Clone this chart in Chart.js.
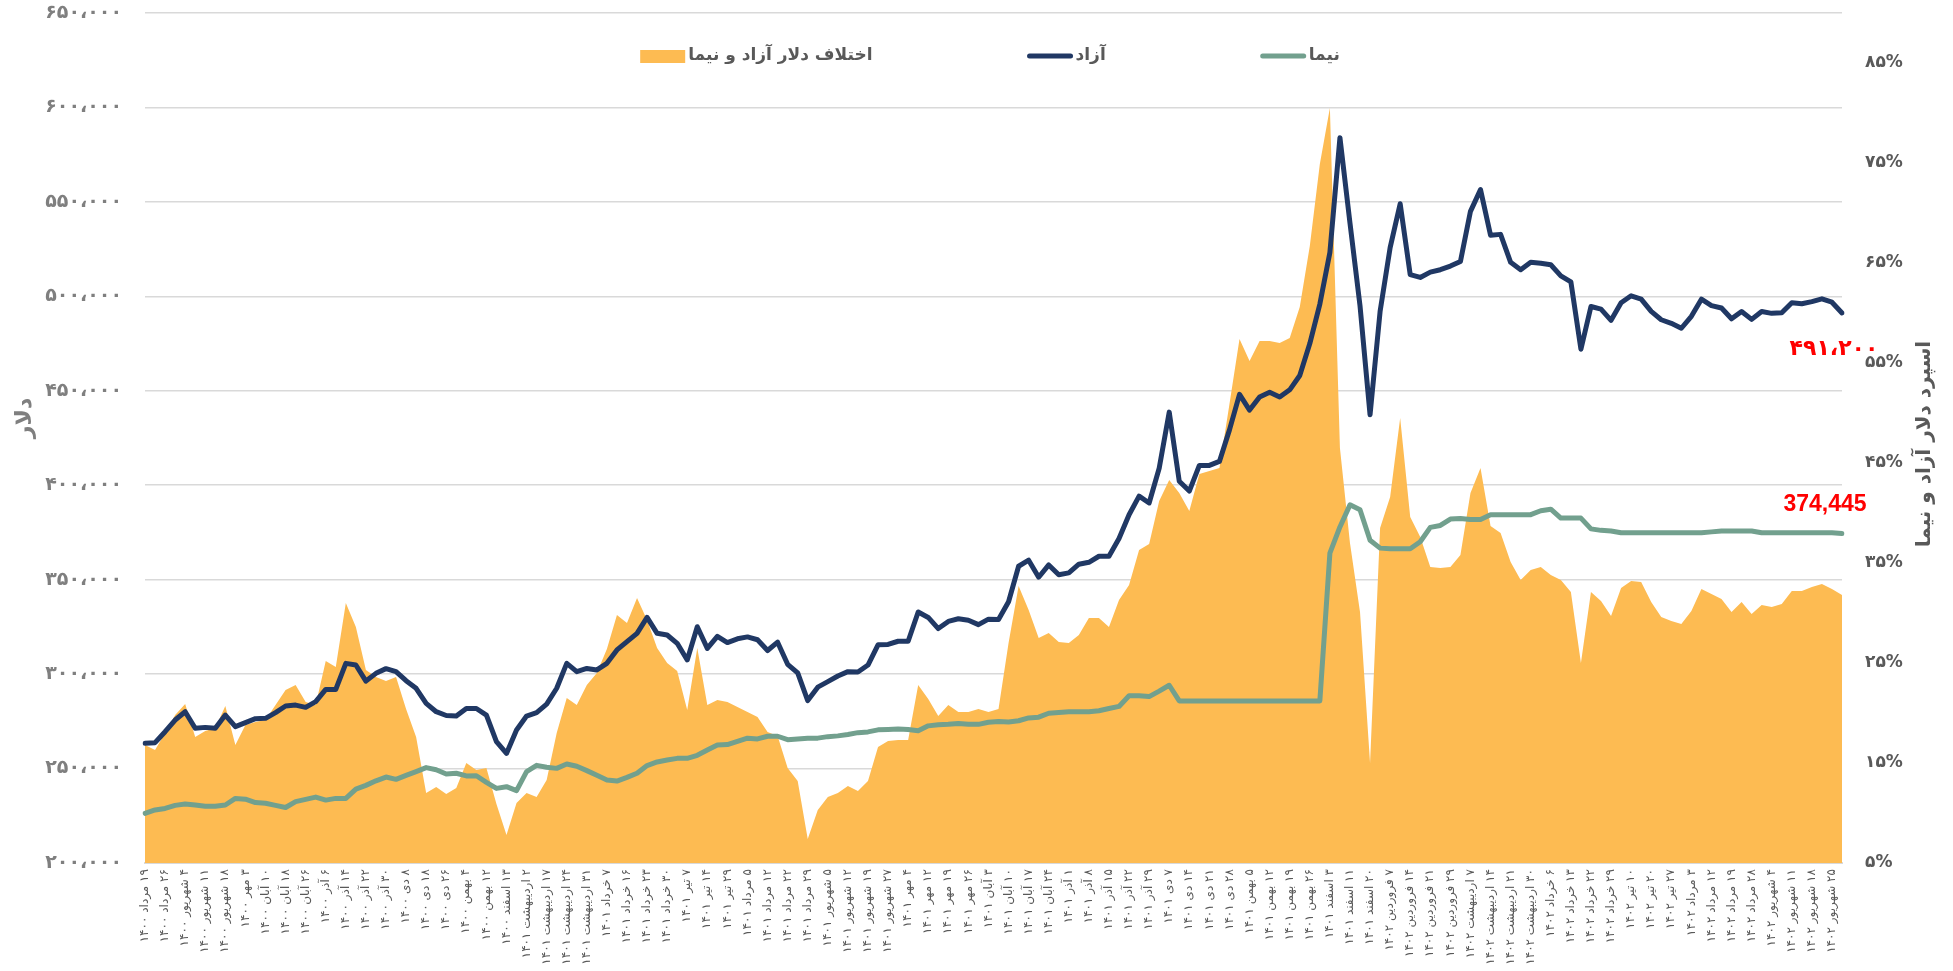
<!DOCTYPE html>
<html lang="fa">
<head>
<meta charset="utf-8">
<script src="https://cdn.jsdelivr.net/npm/chart.js@4.4.1/dist/chart.umd.min.js"></script>
<style>
    html, body { margin: 0; padding: 0; background: #fff; }
    canvas { direction: rtl; display: block; }
</style>
</head>
<body>
<canvas id="myChart" width="1953" height="971" dir="rtl"></canvas>
<script>
// تاریخ‌ها (هر برچسب = دو نقطه داده)
const dateLabels = [
    '۱۹ مرداد ۱۴۰۰','۲۶ مرداد ۱۴۰۰','۴ شهریور ۱۴۰۰','۱۱ شهریور ۱۴۰۰','۱۸ شهریور ۱۴۰۰','۳ مهر ۱۴۰۰','۱۰ آبان ۱۴۰۰','۱۸ آبان ۱۴۰۰','۲۶ آبان ۱۴۰۰','۶ آذر ۱۴۰۰',
    '۱۴ آذر ۱۴۰۰','۲۲ آذر ۱۴۰۰','۳۰ آذر ۱۴۰۰','۸ دی ۱۴۰۰','۱۸ دی ۱۴۰۰','۲۶ دی ۱۴۰۰','۴ بهمن ۱۴۰۰','۱۲ بهمن ۱۴۰۰','۱۳ اسفند ۱۴۰۰','۲ اردیبهشت ۱۴۰۱',
    '۱۷ اردیبهشت ۱۴۰۱','۲۴ اردیبهشت ۱۴۰۱','۳۱ اردیبهشت ۱۴۰۱','۷ خرداد ۱۴۰۱','۱۶ خرداد ۱۴۰۱','۲۳ خرداد ۱۴۰۱','۳۰ خرداد ۱۴۰۱','۷ تیر ۱۴۰۱','۱۴ تیر ۱۴۰۱','۲۹ تیر ۱۴۰۱',
    '۵ مرداد ۱۴۰۱','۱۲ مرداد ۱۴۰۱','۲۲ مرداد ۱۴۰۱','۲۹ مرداد ۱۴۰۱','۵ شهریور ۱۴۰۱','۱۲ شهریور ۱۴۰۱','۱۹ شهریور ۱۴۰۱','۲۷ شهریور ۱۴۰۱','۴ مهر ۱۴۰۱','۱۲ مهر ۱۴۰۱',
    '۱۹ مهر ۱۴۰۱','۲۶ مهر ۱۴۰۱','۳ آبان ۱۴۰۱','۱۰ آبان ۱۴۰۱','۱۷ آبان ۱۴۰۱','۲۴ آبان ۱۴۰۱','۱ آذر ۱۴۰۱','۸ آذر ۱۴۰۱','۱۵ آذر ۱۴۰۱','۲۲ آذر ۱۴۰۱',
    '۲۹ آذر ۱۴۰۱','۷ دی ۱۴۰۱','۱۴ دی ۱۴۰۱','۲۱ دی ۱۴۰۱','۲۸ دی ۱۴۰۱','۵ بهمن ۱۴۰۱','۱۲ بهمن ۱۴۰۱','۱۹ بهمن ۱۴۰۱','۲۶ بهمن ۱۴۰۱','۳ اسفند ۱۴۰۱',
    '۱۱ اسفند ۱۴۰۱','۲۰ اسفند ۱۴۰۱','۷ فروردین ۱۴۰۲','۱۴ فروردین ۱۴۰۲','۲۱ فروردین ۱۴۰۲','۲۹ فروردین ۱۴۰۲','۷ اردیبهشت ۱۴۰۲','۱۴ اردیبهشت ۱۴۰۲','۲۱ اردیبهشت ۱۴۰۲','۳۰ اردیبهشت ۱۴۰۲',
    '۶ خرداد ۱۴۰۲','۱۳ خرداد ۱۴۰۲','۲۲ خرداد ۱۴۰۲','۲۹ خرداد ۱۴۰۲','۱۰ تیر ۱۴۰۲','۲۰ تیر ۱۴۰۲','۲۷ تیر ۱۴۰۲','۳ مرداد ۱۴۰۲','۱۲ مرداد ۱۴۰۲','۱۹ مرداد ۱۴۰۲',
    '۲۸ مرداد ۱۴۰۲','۴ شهریور ۱۴۰۲','۱۱ شهریور ۱۴۰۲','۱۸ شهریور ۱۴۰۲','۲۵ شهریور ۱۴۰۲'
];

// دلار آزاد (ریال)
const freeRate = [
    263400,263700,269500,275700,280100,271300,271800,271300,278300,272200,
    274300,276400,276600,279600,283100,283600,282400,285400,291900,291900,
    305700,304800,296300,300400,302900,301300,296500,292500,284500,280100,
    278100,277800,281800,281800,278300,264200,258000,270400,277800,279600,
    284100,292500,305700,301300,303000,302200,305700,312800,317200,321600,
    330000,321600,320700,316300,307500,325100,313600,320000,316700,318700,
    319700,318200,312500,316900,305200,300600,286000,293100,296000,299000,
    301300,301100,304800,315500,315700,317400,317400,332900,330000,324100,
    327900,329300,328500,326200,329100,328900,338300,357100,360300,351300,
    357800,352600,353600,358200,359200,362400,362400,371800,384400,394200,
    390600,409000,438700,402100,396900,410500,410500,412600,429300,448100,
    439800,446700,449200,446700,450500,458100,475000,495900,523200,584000,
    538800,495000,437300,492000,525800,549000,511500,510000,512800,514100,
    516000,518500,545000,556500,532300,532800,518000,514100,518000,517500,
    516700,510800,507600,472000,494600,493200,487300,496600,500300,498500,
    492000,487600,485700,483100,489400,498500,495100,493800,488100,492000,
    487800,492000,491000,491300,496600,496100,497200,498700,496900,491200
];

// دلار نیما (ریال)
const nimaRate = [
    226300,228100,228900,230500,231200,230700,230000,230000,230700,234200,
    233800,232000,231600,230500,229400,232500,233700,234900,233300,234200,
    234200,239100,241100,243500,245500,244300,246400,248400,250500,249400,
    247100,247500,246100,246200,242700,239500,240400,238300,248400,251700,
    250700,250100,252400,251200,248900,246400,243900,243400,245300,247500,
    251600,253500,254500,255400,255400,257000,259800,262500,262700,264400,
    266100,265700,267100,267100,265300,265700,266100,266100,266900,267300,
    268000,269000,269400,270500,270700,270900,270700,270000,272600,273200,
    273400,273900,273400,273400,274500,274900,274700,275300,276800,277200,
    279300,279700,280100,280100,280100,280600,281800,282900,288500,288500,
    288100,291000,294100,285800,285800,285800,285800,285800,285800,285800,
    285800,285800,285800,285800,285800,285800,285800,285800,364000,377900,
    389600,387000,370900,366700,366400,366400,366400,370100,377700,378700,
    382100,382400,381900,381900,384400,384400,384400,384400,384400,386500,
    387300,382600,382600,382600,376900,376100,375800,374800,374800,374800,
    374800,374800,374800,374800,374800,374800,375300,375800,375800,375800,
    375800,374800,374800,374800,374800,374800,374800,374800,374800,374445
];

// اسپرد (درصد)
const spreadPct = [
    16.8,16.3,18.0,19.8,20.9,17.6,18.2,18.5,20.7,16.8,
    18.8,19.1,19.3,20.8,22.3,22.8,21.1,20.8,25.2,24.6,
    31.0,28.6,24.3,23.6,23.2,23.6,20.4,17.6,12.0,12.6,
    11.9,12.5,15.0,14.3,14.5,10.9,7.8,11.0,12.0,11.6,
    13.3,18.0,21.5,20.8,22.8,24.0,26.4,29.8,29.0,31.5,
    29.3,26.5,25.0,24.2,20.3,26.5,20.8,21.3,21.1,20.6,
    20.1,19.6,18.1,17.7,14.5,13.2,7.4,10.3,11.6,12.0,
    12.7,12.2,13.2,16.6,17.2,17.3,17.3,22.8,21.4,19.7,
    20.8,20.1,20.1,20.4,20.1,20.4,27.0,32.7,30.3,27.5,
    28.0,27.1,27.0,27.8,29.5,29.5,28.6,31.3,32.8,36.3,
    36.9,41.2,43.3,42.0,40.2,43.9,44.2,44.5,50.9,57.4,
    55.2,57.2,57.2,57.0,57.5,60.6,66.7,74.9,80.5,46.5,
    37.0,30.1,15.0,38.5,41.6,49.5,39.6,37.6,34.6,34.5,
    34.6,35.8,42.0,44.5,38.7,38.0,35.1,33.3,34.3,34.6,
    33.8,33.3,32.1,25.0,32.1,31.2,29.7,32.5,33.2,33.1,
    31.1,29.6,29.2,28.9,30.2,32.4,31.9,31.4,30.1,31.1,
    29.9,30.8,30.6,30.9,32.2,32.2,32.6,32.9,32.4,31.8
];

const dollarTicks = [200000, 250000, 300000, 350000, 400000, 450000, 500000, 550000, 600000, 650000];
const spreadTicks = [5, 15, 25, 35, 45, 55, 65, 75, 85];

let myChart = null;

function faDigits(v) {
    return String(v).replace(/\d/g, d => '۰۱۲۳۴۵۶۷۸۹'[d]);
}
function withSep(v, sep) {
    return String(v).replace(/\B(?=(\d{3})+(?!\d))/g, sep);
}

function drawUp(ctx, text, x, y) {
    ctx.save();
    ctx.translate(x, y);
    ctx.rotate(-Math.PI / 2);
    ctx.fillText(text, 0, 0);
    ctx.restore();
}

// y axes: fixed width, no extra top/bottom padding
function fixAxis(width) {
    return s => {
        s.width = width;
        s.paddingTop = 0;
        s.paddingBottom = 0;
    };
}

// عنوان محورها، راهنما و برچسب آخرین مقدار
const overlayPlugin = {
    id: 'overlay',
    afterDraw(chart) {
        const ctx = chart.ctx;
        ctx.save();
        ctx.direction = 'rtl';
        ctx.textBaseline = 'middle';

        ctx.fillStyle = '#595959';
        ctx.textAlign = 'center';
        ctx.font = 'bold 20px "DejaVu Sans"';
        drawUp(ctx, 'اسپرد دلار آزاد و نیما', 1925, 444);
        ctx.fillStyle = '#7F7F7F';
        ctx.font = 'bold 22px "DejaVu Sans"';
        ctx.letterSpacing = '4px';
        drawUp(ctx, 'دلار', 25, 418);
        ctx.letterSpacing = '0px';

        // legend
        const sets = chart.data.datasets;
        ctx.font = 'bold 17px "DejaVu Sans"';
        ctx.textAlign = 'left';
        const markerW = 45, gapText = 3, gapItem = 155;
        const widths = sets.map(ds => markerW + gapText + ctx.measureText(ds.label).width);
        const total = widths.reduce((a, b) => a + b, 0) + gapItem * (sets.length - 1);
        let x = 990 - total / 2;
        const y = 56;
        sets.forEach((ds, k) => {
            if (ds.fill) {
                ctx.fillStyle = ds.backgroundColor;
                ctx.fillRect(x, y - 6, markerW, 13);
            } else {
                ctx.strokeStyle = ds.borderColor;
                ctx.lineWidth = 5;
                ctx.lineCap = 'round';
                ctx.beginPath();
                ctx.moveTo(x + 2, y);
                ctx.lineTo(x + markerW - 2, y);
                ctx.stroke();
            }
            ctx.fillStyle = '#595959';
            ctx.fillText(ds.label, x + markerW + gapText, y);
            x += widths[k] + gapItem;
        });

        // last values
        const last = freeRate.length - 1;
        const fp = chart.getDatasetMeta(1).data[last];
        const np = chart.getDatasetMeta(2).data[last];
        ctx.fillStyle = '#FF0000';
        ctx.textAlign = 'center';
        ctx.font = 'bold 22px "DejaVu Sans"';
        ctx.fillText(faDigits(withSep(freeRate[last], '،')), fp.x - 8, fp.y + 36);
        ctx.font = 'bold 23px "Liberation Sans"';
        ctx.fillText(withSep(nimaRate[last], ','), np.x - 17, np.y - 29);
        ctx.restore();
    }
};

function initializeChart(ctx) {
    if (myChart) {
        myChart.destroy();
    }
    const labels = freeRate.map((v, i) => (i % 2 === 0 && dateLabels[i / 2]) ? dateLabels[i / 2] : '');

    myChart = new Chart(ctx, {
        type: 'line',
        data: {
            labels: labels,
            datasets: [
                {
                    label: 'اختلاف دلار آزاد و نیما',
                    data: spreadPct,
                    yAxisID: 'y1',
                    fill: 'start',
                    backgroundColor: '#FDBB52',
                    borderColor: '#FDBB52',
                    borderWidth: 0,
                    pointRadius: 0,
                    order: 3
                },
                {
                    label: 'آزاد',
                    data: freeRate,
                    yAxisID: 'y',
                    fill: false,
                    borderColor: '#203864',
                    borderWidth: 5,
                    pointRadius: 0,
                    order: 1
                },
                {
                    label: 'نیما',
                    data: nimaRate,
                    yAxisID: 'y',
                    fill: false,
                    borderColor: '#72A08E',
                    borderWidth: 5,
                    pointRadius: 0,
                    order: 2
                }
            ]
        },
        options: {
            responsive: false,
            animation: false,
            layout: { padding: { top: 13, left: 0, right: 0, bottom: 0 } },
            elements: { line: { tension: 0, borderJoinStyle: 'round', borderCapStyle: 'round' } },
            plugins: {
                legend: { display: false },
                tooltip: { enabled: false }
            },
            scales: {
                x: {
                    offset: false,
                    grid: { display: false, drawTicks: false },
                    border: { display: true, color: '#D9D9D9', width: 2 },
                    ticks: {
                        autoSkip: false,
                        minRotation: 90,
                        maxRotation: 90,
                        padding: 6,
                        color: '#595959',
                        font: { family: 'DejaVu Sans', size: 12 }
                    },
                    afterFit: s => { s.height = 108; s.paddingLeft = 0; s.paddingRight = 0; }
                },
                y: {
                    position: 'left',
                    min: 200000,
                    max: 650000,
                    afterBuildTicks: s => { s.ticks = dollarTicks.map(v => ({ value: v })); },
                    grid: { color: '#D9D9D9', lineWidth: 1.5, drawTicks: false },
                    border: { display: false },
                    ticks: {
                        padding: 23,
                        color: '#7F7F7F',
                        font: { family: 'DejaVu Sans', size: 19, weight: 'bold' },
                        callback: v => faDigits(withSep(v, '،'))
                    },
                    afterFit: fixAxis(145)
                },
                y1: {
                    position: 'right',
                    min: 5,
                    max: 90,
                    afterBuildTicks: s => { s.ticks = spreadTicks.map(v => ({ value: v })); },
                    grid: { display: false, drawTicks: false },
                    border: { display: false },
                    ticks: {
                        padding: 23,
                        color: '#595959',
                        font: { family: 'DejaVu Sans', size: 17, weight: 'bold' },
                        callback: v => faDigits(v) + '%'
                    },
                    afterFit: fixAxis(111)
                }
            }
        },
        plugins: [overlayPlugin]
    });
}

document.addEventListener('DOMContentLoaded', () => {
    initializeChart(document.getElementById('myChart').getContext('2d'));
});
</script>
</body>
</html>
